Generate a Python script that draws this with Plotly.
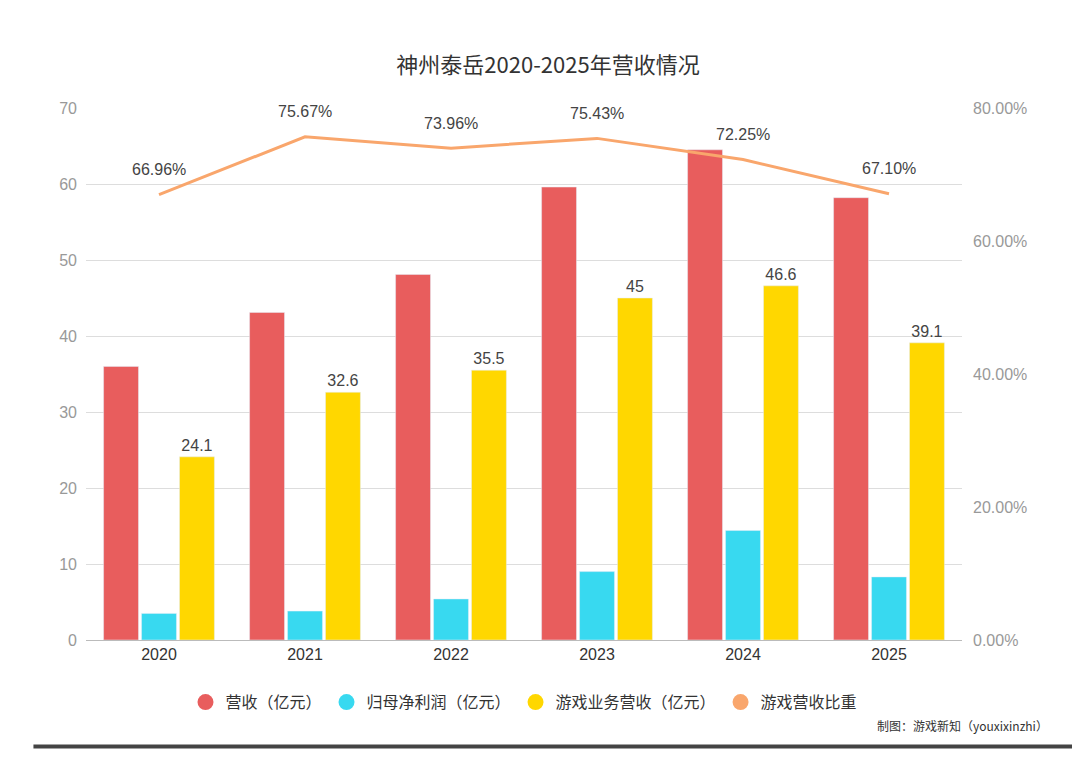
import plotly.graph_objects as go

years = ["2020", "2021", "2022", "2023", "2024", "2025"]
revenue = [36.0, 43.1, 48.1, 59.6, 64.5, 58.2]
net_profit = [3.5, 3.8, 5.4, 9.0, 14.4, 8.3]
game_revenue = [24.1, 32.6, 35.5, 45, 46.6, 39.1]
game_share = [0.6696, 0.7567, 0.7396, 0.7543, 0.7225, 0.6710]

names = ["营收（亿元）", "归母净利润（亿元）", "游戏业务营收（亿元）", "游戏营收比重"]
colors = ["#E85D5D", "#38D9F0", "#FFD700", "#F9A66C"]

font = "Liberation Sans, Noto Sans CJK SC"

fig = go.Figure()
fig.add_trace(go.Bar(x=years, y=revenue, marker_color=colors[0], showlegend=False))
fig.add_trace(go.Bar(x=years, y=net_profit, marker_color=colors[1], showlegend=False))
fig.add_trace(go.Bar(x=years, y=game_revenue, marker_color=colors[2], showlegend=False,
                     text=[f"{v:g}" for v in game_revenue], textposition="outside",
                     textfont=dict(size=16, color="#444"), cliponaxis=False))
fig.add_trace(go.Scatter(x=years, y=game_share, yaxis="y2", mode="lines", showlegend=False,
                         line=dict(color=colors[3], width=3)))
# category axis: annotations use the category index
for i, v in enumerate(game_share):
    fig.add_annotation(x=i, y=v, yref="y2", text=f"{v:.2%}", showarrow=False, yshift=25,
                       font=dict(size=16, color="#444"))

# legend entries with round markers
for n, c in zip(names, colors):
    fig.add_trace(go.Scatter(x=[years[0]], y=[None], mode="markers", name=n,
                             marker=dict(color=c, size=18, symbol="circle")))

fig.update_layout(
    width=1080, height=768,
    paper_bgcolor="white", plot_bgcolor="white",
    font=dict(family=font, color="#666"),
    title=dict(text="神州泰岳2020-2025年营收情况", x=0.5, y=0.935, xanchor="center",
               font=dict(size=22, color="#333", family="Noto Sans CJK SC")),
    margin=dict(l=78, r=126, t=100, b=136),
    barmode="group", bargap=0.22, bargroupgap=0.08,
    xaxis=dict(type="category", showline=True, linecolor="#bbb",
               tickfont=dict(size=16, color="#333"), ticks=""),
    yaxis=dict(range=[0, 70], dtick=10, gridcolor="#ddd", zeroline=False,
               ticklabelstandoff=8, tickfont=dict(size=16, color="#999")),
    yaxis2=dict(range=[0, 0.8], dtick=0.2, overlaying="y", side="right", tickformat=".2%",
                showgrid=False, zeroline=False, ticklabelstandoff=10,
                tickfont=dict(size=16, color="#999")),
    legend=dict(orientation="h", x=0.5, xanchor="center", y=-0.085, yanchor="top",
                font=dict(size=16, color="#333", family="Noto Sans CJK SC")),
)
fig.add_annotation(text="制图：游戏新知（youxixinzhi）", xref="paper", yref="paper",
                   x=1.1, y=-0.18, xanchor="right", showarrow=False,
                   font=dict(size=12, color="#333", family="Noto Sans CJK SC"))
fig.add_shape(type="line", xref="paper", yref="paper", x0=-0.06, x1=1.14, y0=-0.2, y1=-0.2,
              line=dict(color="#444", width=4))

fig.write_html("out.html")
